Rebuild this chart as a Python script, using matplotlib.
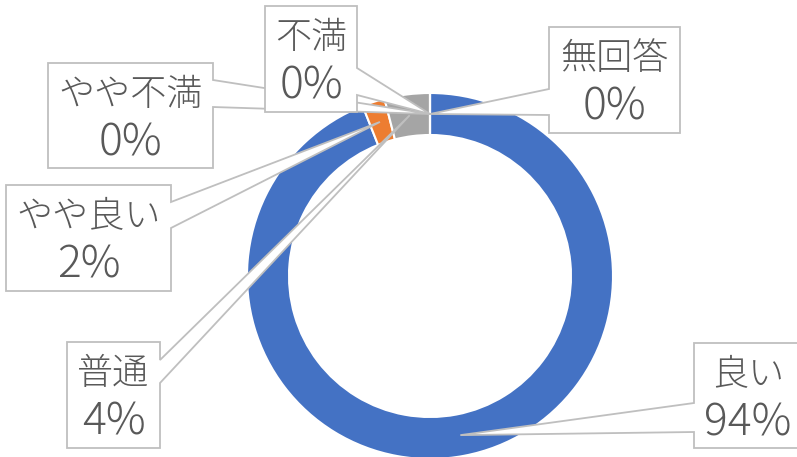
import numpy as np
import matplotlib
matplotlib.use('Agg')
import matplotlib.pyplot as plt
from matplotlib.patches import Polygon

plt.rcParams['font.family'] = ['Noto Sans CJK JP', 'DejaVu Sans']

# data
labels = ['良い', 'やや良い', '普通', 'やや不満', '不満', '無回答']
values = [94, 2, 4, 0, 0, 0]
colors = ['#4472C4', '#ED7D31', '#A5A5A5', '#FFC000', '#5B9BD5', '#70AD47']

# label box layout in pixels from top-left: x0, x1, y0, y1, side of pointer, pointer y1, y2
boxes = {
    '良い': (694, 802, 343, 448, 'left', 403, 432),
    'やや良い': (6, 171, 185, 291, 'right', 202, 228),
    '普通': (67, 160, 342, 448, 'right', 360, 383),
    'やや不満': (48, 213, 63, 168, 'right', 80, 107),
    '不満': (265, 357, 6, 112, 'right', 68, 95),
    '無回答': (549, 680, 27, 133, 'left', 89, 115),
}

W, H = 797, 457
cx, cy = 430, H - 276
R = 183
ring = 42

fig = plt.figure(figsize=(W / 100, H / 100), dpi=100)
ax = fig.add_axes([0, 0, 1, 1])

wedges, _ = ax.pie(values, colors=colors, startangle=90, counterclock=False,
                   center=(cx, cy), radius=R,
                   wedgeprops=dict(width=ring, edgecolor='white', linewidth=1.5))
ax.set_xlim(0, W)
ax.set_ylim(0, H)
ax.set_aspect('equal')
ax.axis('off')

total = sum(values)
r_mid = R - ring / 2
start = 0.0
for i, (lab, v) in enumerate(zip(labels, values)):
    mid = start + v / total * 360 / 2
    start += v / total * 360
    ang = np.deg2rad(90 - mid)
    tip = (cx + r_mid * np.cos(ang), cy + r_mid * np.sin(ang))

    x0, x1, y0, y1, side, p1, p2 = boxes[lab]
    top = y0
    y0, y1, p1, p2 = H - y0, H - y1, H - p1, H - p2
    if side == 'right':
        pts = [(x0, y0), (x1, y0), (x1, p1), tip, (x1, p2), (x1, y1), (x0, y1)]
    else:
        pts = [(x0, y0), (x1, y0), (x1, y1), (x0, y1), (x0, p2), tip, (x0, p1)]
    ax.add_patch(Polygon(pts, closed=True, facecolor='white', edgecolor='#BFBFBF',
                         linewidth=1.3, zorder=3 + i, clip_on=False))
    pct = round(v / total * 100)
    xc = (x0 + x1) / 2
    ax.text(xc, H - (top + 32), lab, ha='center', va='center', fontweight='light',
            fontsize=26, color='#595959', zorder=3 + i)
    ax.text(xc, H - (top + 80), f'{pct}%', ha='center', va='center', fontweight='light',
            fontsize=32, color='#595959', zorder=3 + i)

fig.savefig('out.png', dpi=100)
